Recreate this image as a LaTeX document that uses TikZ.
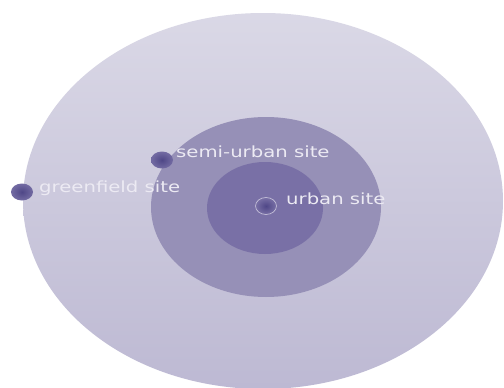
\documentclass[tikz,border=0pt]{standalone}
\usepackage{fontspec}
\newfontfamily\sitefont{DejaVu Sans}
\usepackage{tikz}
\usetikzlibrary{shapes.geometric,positioning}

\definecolor{zoneoutertop}{HTML}{DAD8E6}
\definecolor{zoneouterbot}{HTML}{BDB9D3}
\definecolor{zonemid}{HTML}{9690B7}
\definecolor{zonecore}{HTML}{7970A6}
\definecolor{sitedark}{HTML}{4F4787}
\definecolor{siteedge}{HTML}{736BA3}
\definecolor{labeltext}{HTML}{ECEAF3}

\newcommand{\wide}[1]{\scalebox{1.277}[1]{#1}}

\begin{document}
\begin{tikzpicture}[x=1pt, y=-1pt,
  site/.style={ellipse, inner sep=0pt, minimum width=22pt, minimum height=17pt,
               inner color=sitedark, outer color=siteedge},
  sitelabel/.style={anchor=base west, inner sep=0pt, text=labeltext,
                    font=\sitefont\fontsize{15.4}{18}\selectfont},
]
  \fill[white] (0,0) rectangle (504,388);
  \useasboundingbox (0,0) rectangle (504,388);

  % Zones
  \shade[top color=zoneoutertop, bottom color=zoneouterbot]
    (263,201) ellipse [x radius=240, y radius=188];
  \fill[zonemid] (266,207) ellipse [x radius=115, y radius=90];
  \fill[zonecore] (265,208) ellipse [x radius=58, y radius=46];

  % Sites
  \node[site] (greenfield) at (22,192) {};
  \node[site] (semiurban) at (162,160) {};
  \node[ellipse, inner sep=0pt, minimum width=21pt, minimum height=17pt,
        draw=labeltext!65!zonecore, line width=0.7pt,
        inner color=sitedark, outer color=zonecore] (urban) at (266,206) {};

  % Labels
  \node[sitelabel] (greenfieldlbl) at (39,192) {\wide{greenfield site}};
  \node[sitelabel] (semiurbanlbl) at (176,157) {\wide{semi-urban site}};
  \node[sitelabel] (urbanlbl) at (286,204) {\wide{urban site}};
\end{tikzpicture}
\end{document}
